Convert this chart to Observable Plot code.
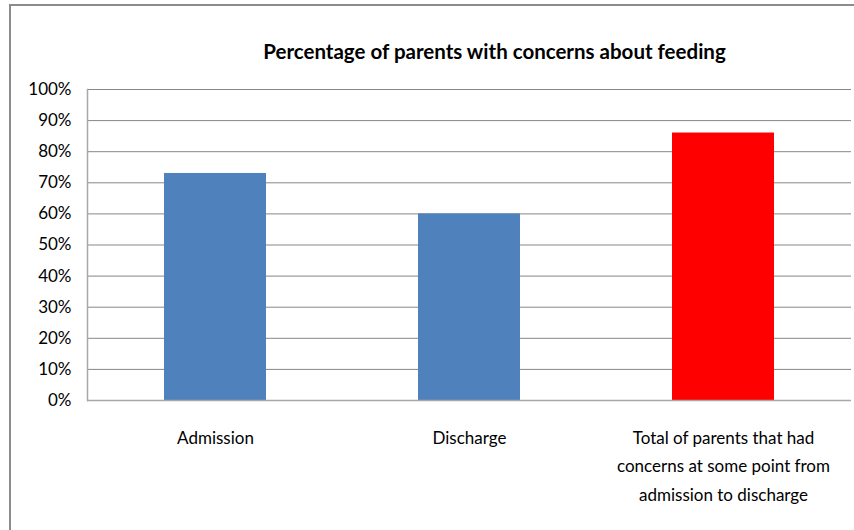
<!DOCTYPE html>
<html>
<head>
<meta charset="utf-8">
<script src="https://cdn.jsdelivr.net/npm/d3@7"></script>
<script src="https://cdn.jsdelivr.net/npm/@observablehq/plot@0.6"></script>
<style>
  html, body { margin: 0; padding: 0; background: #fff; overflow: hidden; }
  #wrap { position: relative; width: 854px; height: 530px; }
  #border { position: absolute; left: 9px; top: 4px; width: 860px; height: 540px; border: 2px solid #8c8c8c; box-sizing: border-box; }
  #chart { position: absolute; left: 0; top: 0; }
</style>
</head>
<body>
<div id="wrap">
  <div id="border"></div>
  <div id="chart"></div>
</div>
<script>
const title = "Percentage of parents with concerns about feeding";
const categories = ["Admission", "Discharge", "Total of parents that had\nconcerns at some point from\nadmission to discharge"];
const values = [0.73, 0.60, 0.86];
const colors = ["#4F81BD", "#4F81BD", "#FF0000"];
const yTicks = [0, 0.1, 0.2, 0.3, 0.4, 0.5, 0.6, 0.7, 0.8, 0.9, 1.0];

const data = categories.map((c, i) => ({category: c, value: values[i], color: colors[i]}));
const font = "Lato, 'Open Sans', sans-serif";

const chart = Plot.plot({
  width: 854,
  height: 530,
  marginLeft: 87,
  marginRight: 3,
  marginTop: 89,
  marginBottom: 130,
  style: {fontFamily: font, fontSize: "17px", color: "#000", background: "transparent"},
  x: {domain: categories, paddingInner: 0.6, paddingOuter: 0.3, label: null},
  y: {domain: [0, 1], ticks: yTicks, label: null},
  marks: [
    Plot.gridY(yTicks, {stroke: "#878787", strokeOpacity: 1, strokeWidth: 1}),
    Plot.barY(data, {x: "category", y: "value", fill: "color"}),
    Plot.ruleY([0], {stroke: "#a8a8a8", strokeWidth: 1.5}),
    Plot.frame({anchor: "left", stroke: "#a8a8a8", strokeWidth: 1.5}),
    Plot.axisY({ticks: yTicks, tickFormat: d3.format(".0%"), tickSize: 0, tickPadding: 16, fontSize: 17, fill: "#000"}),
    Plot.axisX({tickSize: 0, tickPadding: 23, fontSize: 17, lineHeight: 1.68, fill: "#000"}),
    Plot.text([title], {frameAnchor: "top", dy: -45, dx: 25, fontSize: 20.5, fontWeight: "bold", fill: "#000"})
  ]
});
document.getElementById("chart").appendChild(chart);
</script>
</body>
</html>
